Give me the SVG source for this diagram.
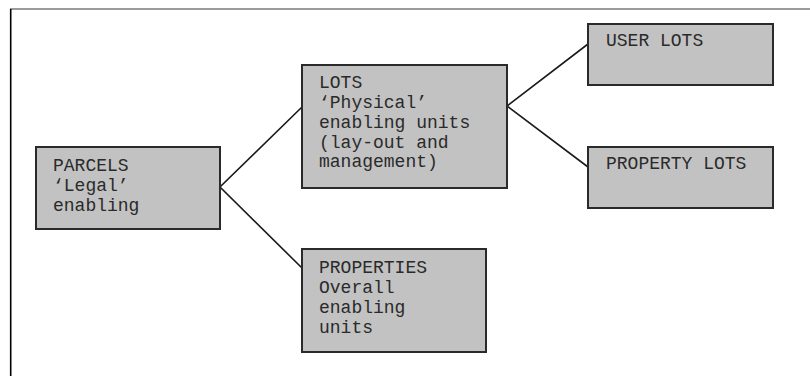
<svg xmlns="http://www.w3.org/2000/svg" width="810" height="376" viewBox="0 0 810 376">
<style>
.box{fill:#c2c2c2;stroke:#2a2a2a;stroke-width:2}
.t{font-family:"Liberation Mono","Courier New",monospace;font-size:18px;fill:#2a2a2a}
.c{stroke:#1a1a1a;stroke-width:1.6;fill:none}
</style>
<rect x="0" y="0" width="810" height="376" fill="#ffffff"/>
<line x1="10" y1="9" x2="810" y2="9" stroke="#7a7a7a" stroke-width="1.6"/>
<line x1="10.7" y1="9" x2="10.7" y2="376" stroke="#000" stroke-width="1.6"/>
<g id="connectors">
<polyline class="c" points="302,107 220,187 302,268"/>
<polyline class="c" points="588,44 507,106 588,167"/>
</g>
<g id="parcels">
<rect class="box" x="36" y="147" width="184" height="82"/>
<text class="t" x="53" y="171">PARCELS</text>
<text class="t" x="53" y="191">‘Legal’</text>
<text class="t" x="53" y="211">enabling</text>
</g>
<g id="lots">
<rect class="box" x="302" y="65" width="205" height="123"/>
<text class="t" x="319" y="88">LOTS</text>
<text class="t" x="319" y="108">‘Physical’</text>
<text class="t" x="319" y="128">enabling units</text>
<text class="t" x="319" y="148">(lay-out and</text>
<text class="t" x="319" y="167">management)</text>
</g>
<g id="properties">
<rect class="box" x="302" y="249" width="184" height="103"/>
<text class="t" x="319" y="273">PROPERTIES</text>
<text class="t" x="319" y="293">Overall</text>
<text class="t" x="319" y="313">enabling</text>
<text class="t" x="319" y="333">units</text>
</g>
<g id="userlots">
<rect class="box" x="588" y="24" width="185" height="61"/>
<text class="t" x="606" y="46">USER LOTS</text>
</g>
<g id="propertylots">
<rect class="box" x="588" y="147" width="185" height="61"/>
<text class="t" x="606" y="169">PROPERTY LOTS</text>
</g>
</svg>
